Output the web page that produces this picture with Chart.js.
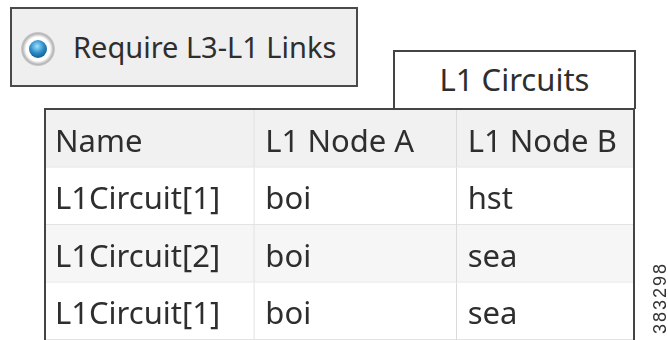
<!DOCTYPE html>
<html>
<head>
<meta charset="utf-8">
<script src="https://cdn.jsdelivr.net/npm/chart.js@4.4.1/dist/chart.umd.min.js"></script>
<style>
  html, body { margin: 0; padding: 0; background: #fff; }
  body { width: 668px; height: 340px; overflow: hidden; position: relative; font-family: "Noto Sans", sans-serif; color: #333; }
  #wrap { position: absolute; left: 0; top: 0; width: 668px; height: 400px; }
  .option { position: absolute; left: 10px; top: 7px; width: 348px; height: 80px; box-sizing: border-box;
    background: #efefef; border: 2px solid #4a4a4a; }
  .radio { position: absolute; left: 9px; top: 23px; width: 34px; height: 34px; border-radius: 50%;
    background: radial-gradient(circle at 50% 50%, #fff 0, #fff 50%, #b5b5b5 64%, #ececec 80%, #bdbdbd 100%); }
  .radio i { position: absolute; left: 8px; top: 8px; width: 18px; height: 18px; border-radius: 50%;
    background: radial-gradient(circle at 45% 35%, #9fe0ff 0, #2a8cc8 45%, #0b3a66 100%); }
  .option span { position: absolute; left: 61px; top: 20px; font-size: 29px; line-height: 36px; color: #2e2e2e; }
  .tab { position: absolute; left: 393px; top: 50px; width: 243px; height: 59px; box-sizing: border-box;
    border: 2px solid #444; border-bottom: none; background: #fff; text-align: center;
    font-size: 31px; line-height: 54px; color: #2e2e2e; }
  .fig { position: absolute; left: 615px; top: 288px; width: 90px; height: 20px; text-align: center;
    font-family: "Liberation Sans", Arial, sans-serif; font-size: 18px; line-height: 20px;
    color: #333; transform: rotate(-90deg); letter-spacing: 2px; }
</style>
</head>
<body>
<div class="option"><div class="radio"><i></i></div><span id="optLabel"></span></div>
<div class="tab" id="tabLabel"></div>
<div id="wrap"><canvas id="table" width="668" height="400"></canvas></div>
<div class="fig" id="figId"></div>
<script>
// table content
const columns = ['Name', 'L1 Node A', 'L1 Node B'];
const names = ['L1Circuit[1]', 'L1Circuit[2]', 'L1Circuit[1]'];
const nodeA = ['boi', 'boi', 'boi'];
const nodeB = ['hst', 'sea', 'sea'];
const optionLabel = 'Require L3-L1 Links';
const tabTitle = 'L1 Circuits';
const figureId = '383298';

document.getElementById('optLabel').textContent = optionLabel;
document.getElementById('tabLabel').textContent = tabTitle;
document.getElementById('figId').textContent = figureId;

// header row, data rows, and one empty row that the page edge cuts off
const rows = [columns, ...names.map((n, i) => [n, nodeA[i], nodeB[i]]), ['', '', '']];
const colWidths = [210, 202, 178];
const rowFill = ['#f1f1f1', '#ffffff', '#f6f6f6', '#ffffff', '#f6f6f6'];

const datasets = columns.map((col, c) => ({
  label: col,
  data: rows.map(() => colWidths[c]),
  backgroundColor: rows.map((r, i) => rowFill[i]),
  borderColor: '#dadada',
  borderWidth: { top: 0, left: 0, right: 1, bottom: 1 },
  borderSkipped: false,
  categoryPercentage: 1,
  barPercentage: 1,
  stack: 'row'
}));

// cell texts and the dark outline round the table
const cellText = {
  id: 'cellText',
  afterDatasetsDraw(chart) {
    const ctx = chart.ctx;
    const area = chart.chartArea;
    ctx.save();
    // header strip reaches up to the outline
    ctx.fillStyle = rowFill[0];
    ctx.fillRect(area.left, area.top - 2, area.right - area.left, 2);
    ctx.font = '31px "Noto Sans", sans-serif';
    ctx.fillStyle = '#2e2e2e';
    ctx.textBaseline = 'alphabetic';
    chart.data.datasets.forEach((ds, c) => {
      const meta = chart.getDatasetMeta(c);
      meta.data.forEach((bar, r) => {
        const p = bar.getProps(['base', 'y'], true);
        ctx.fillText(rows[r][c], p.base + 11, p.y + 13);
      });
    });
    ctx.strokeStyle = '#444';
    ctx.lineWidth = 2;
    ctx.beginPath();
    ctx.moveTo(area.left + 1, chart.canvas.height);
    ctx.lineTo(area.left + 1, area.top - 1);
    ctx.lineTo(area.right - 1, area.top - 1);
    ctx.lineTo(area.right - 1, chart.canvas.height);
    ctx.stroke();
    ctx.restore();
  }
};

new Chart(document.getElementById('table'), {
  type: 'bar',
  data: { labels: rows.map((r, i) => i), datasets: datasets },
  options: {
    indexAxis: 'y',
    responsive: false,
    animation: false,
    layout: { padding: { left: 44, right: 33, top: 110, bottom: 2.5 } },
    scales: {
      x: { stacked: true, min: 0, max: 590, display: false },
      y: { stacked: true, display: false }
    },
    plugins: { legend: { display: false }, tooltip: { enabled: false } }
  },
  plugins: [cellText]
});
</script>
</body>
</html>
